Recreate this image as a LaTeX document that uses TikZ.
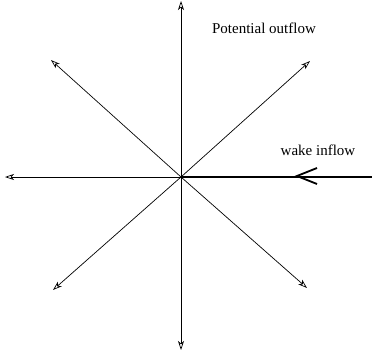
\documentclass[tikz,border=0pt]{standalone}
\usepackage{fontspec}
\setmainfont{Liberation Serif}
\usetikzlibrary{arrows.meta}
\begin{document}
\begin{tikzpicture}[x=1pt,y=-1pt,
    outflow/.style={-{Stealth[open,length=9pt,width=6pt,inset=2.5pt]},line width=0.7pt},
    inflow/.style={line width=1.8pt},
    label/.style={font=\fontsize{15}{18}\selectfont,inner sep=0pt}]
    \useasboundingbox (0,0) rectangle (372,356);
    % 中心
    \coordinate (O) at (181,177);
    % 势流出流
    \foreach \name/\px/\py in {n/181/1, nw/51/60, ne/310/61, w/5/177,
                               sw/53/290, se/307/288, s/181/350} {
        \coordinate (\name) at (\px,\py);
        \draw[outflow] (O) -- (\name);
    }
    % 尾流入流
    \coordinate (e) at (372,177);
    \draw[inflow] (O) -- (e);
    \coordinate (tip) at (297,176);
    \draw[inflow] (317,168) -- (tip) -- (317,184);
    \node[label] (pot) at (264,28) {Potential outflow};
    \node[label] (wake) at (318,150) {wake inflow};
\end{tikzpicture}
\end{document}
